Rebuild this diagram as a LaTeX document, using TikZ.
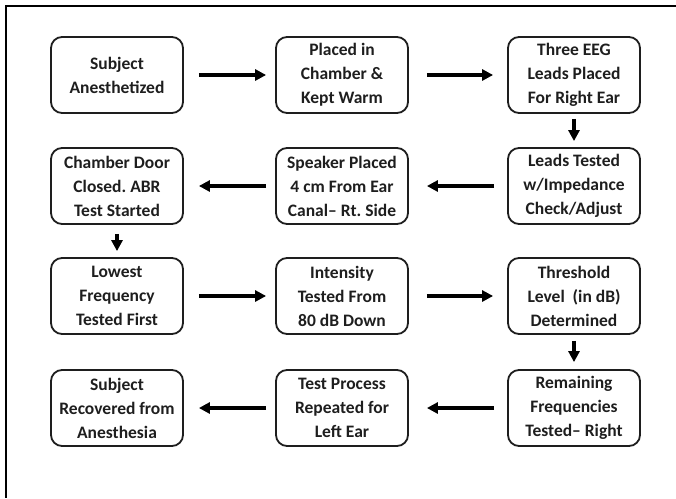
\documentclass[tikz,border=0pt]{standalone}
\usepackage{fontspec}
\setmainfont{Carlito}
\usetikzlibrary{arrows.meta}
\definecolor{ink}{RGB}{30,30,30}
\frenchspacing
\tikzset{
  stepbox/.style={draw=ink, line width=1.8pt, rounded corners=11pt, minimum width=132pt, minimum height=76pt,
    inner sep=0pt, align=center, text=ink, font=\bfseries\fontsize{17.5}{24}\selectfont},
  flow/.style={draw=black, line width=3.4pt, -{Triangle[length=11pt,width=11pt]}}
}
\begin{document}
\begin{tikzpicture}[x=1pt,y=-1pt]
\useasboundingbox (0,0) rectangle (676,498);
\draw[line width=2.6pt, black] (676,6) -- (6,6) -- (6,498);
\node[stepbox] (a1) at (117,75) {Subject\\Anesthetized};
\node[stepbox] (a2) at (342,75) {Placed in\\Chamber \&\\Kept Warm};
\node[stepbox] (a3) at (574,75) {Three EEG\\Leads Placed\\For Right Ear};
\node[stepbox] (b3) at (574,186) {Leads Tested\\w/Impedance\\Check/Adjust};
\node[stepbox] (b2) at (342,186) {Speaker Placed\\4 cm From Ear\\Canal-- Rt. Side};
\node[stepbox] (b1) at (117,186) {Chamber Door\\Closed. ABR\\Test Started};
\node[stepbox] (c1) at (117,296) {Lowest\\Frequency\\Tested First};
\node[stepbox] (c2) at (342,296) {Intensity\\Tested From\\80 dB Down};
\node[stepbox] (c3) at (574,296) {Threshold\\Level~ (in dB)\\Determined};
\node[stepbox] (d3) at (574,408) {Remaining\\Frequencies\\Tested-- Right};
\node[stepbox] (d2) at (342,408) {Test Process\\Repeated for\\Left Ear};
\node[stepbox] (d1) at (117,408) {Subject\\Recovered from\\Anesthesia};
\draw[flow] ([xshift=15pt]a1.east) -- ([xshift=-9pt]a2.west);
\draw[flow] ([xshift=18pt]a2.east) -- ([xshift=-14pt]a3.west);
\draw[flow] ([yshift=-5pt]a3.south) -- ([yshift=6pt]b3.north);
\draw[flow] ([xshift=-13pt]b3.west) -- ([xshift=18pt]b2.east);
\draw[flow] ([xshift=-9pt]b2.west) -- ([xshift=15pt]b1.east);
\draw[flow] ([yshift=-9pt]b1.south) -- ([yshift=6pt]c1.north);
\draw[flow] ([xshift=15pt]c1.east) -- ([xshift=-9pt]c2.west);
\draw[flow] ([xshift=18pt]c2.east) -- ([xshift=-14pt]c3.west);
\draw[flow] ([yshift=-6pt]c3.south) -- ([yshift=7pt]d3.north);
\draw[flow] ([xshift=-13pt]d3.west) -- ([xshift=18pt]d2.east);
\draw[flow] ([xshift=-9pt]d2.west) -- ([xshift=15pt]d1.east);
\end{tikzpicture}
\end{document}
